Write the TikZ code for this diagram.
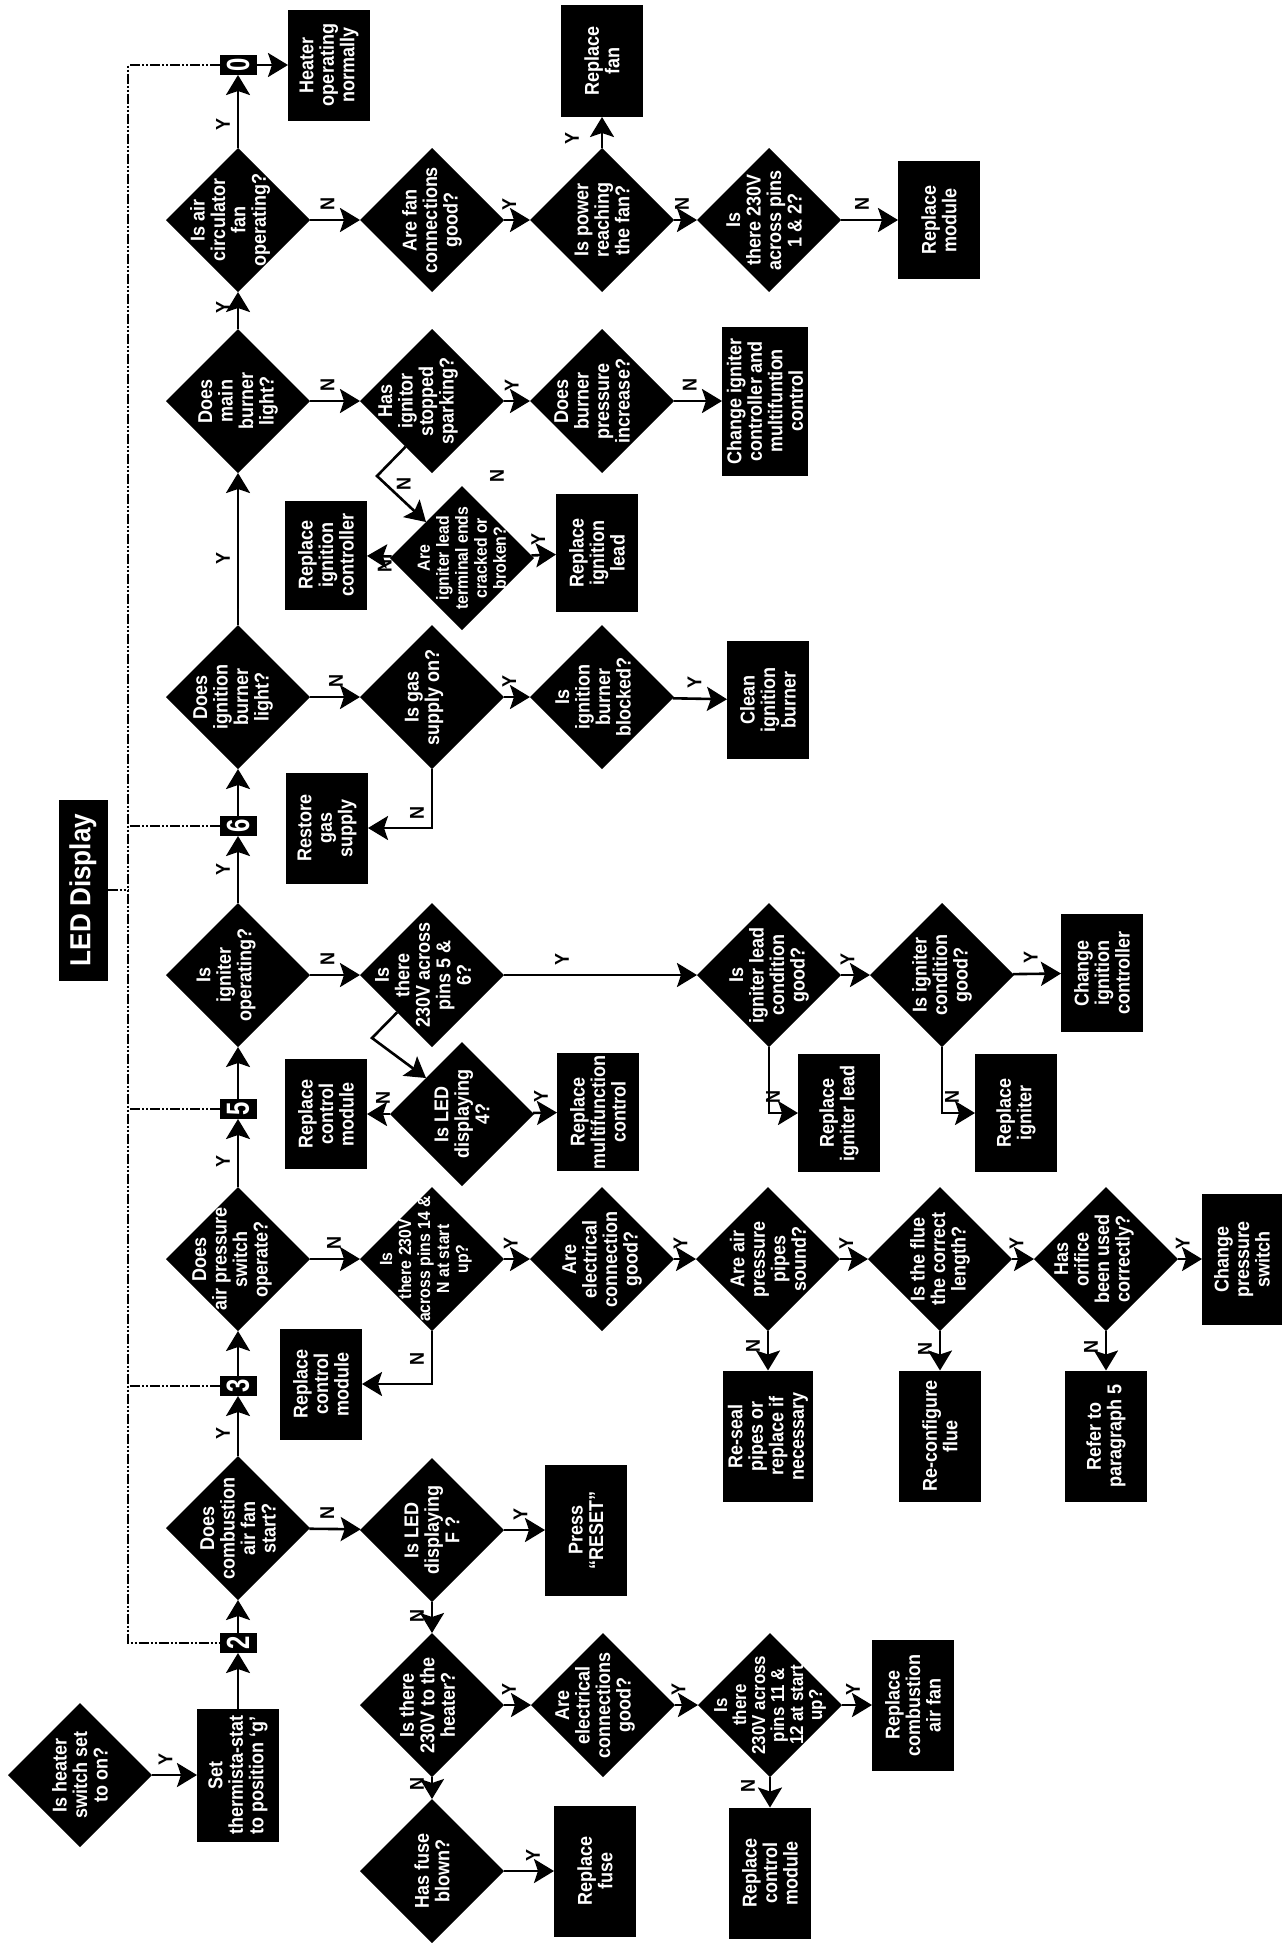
\documentclass[tikz,border=0pt]{standalone}
\usepackage{fontspec}
\setmainfont{Liberation Sans}[FakeStretch=0.9]
\usepackage{graphicx}
\usepackage{tikz}
\usetikzlibrary{shapes.geometric,arrows.meta}

\begin{document}
\begin{tikzpicture}[x=0.5pt, y=-0.5pt, thick,
    ques/.style = {diamond, fill=black, text=white, rotate=90, minimum size=72pt, inner sep=-30pt, outer sep=0pt, align=center, font=\bfseries\fontsize{10}{10.25}\selectfont},
    fine/.style = {font=\bfseries\fontsize{8.8}{9.5}\selectfont},
    lift/.style = {text depth=#1},
    act/.style = {rectangle, fill=black, text=white, rotate=90, minimum width=59pt, minimum height=41pt, inner sep=1pt, outer sep=0pt, align=center, font=\bfseries\fontsize{10}{10.25}\selectfont},
    wide/.style = {minimum width=65.5pt},
    num/.style = {rectangle, fill=black, text=white, rotate=90, minimum width=10pt, minimum height=18.5pt, inner sep=0pt, outer sep=0pt, font=\bfseries\fontsize{16}{16}\selectfont},
    yn/.style = {rotate=90, inner sep=0pt, font=\bfseries\fontsize{10}{10}\selectfont},
    lv/.style = {xshift=-7.5pt, yn},
    lh/.style = {yshift=8pt, yn},
    arr/.style = {-{Stealth[length=10pt, width=12pt, inset=2pt]}, line width=1.3pt},
    dd/.style = {line width=0.6pt, dash pattern=on 5pt off 1pt on 1pt off 1pt on 1pt off 1pt}]
    \useasboundingbox (0,0) rectangle (1282,1943);

    \node[act, font=\bfseries\fontsize{14.5}{15}\selectfont, minimum width=90.5pt, minimum height=24.5pt] (led) at (83,890) {LED Display};
    \node[ques] (onq) at (80,1775) {Is heater\\switch set\\to on?};
    \node[act, minimum width=66.5pt] (setth) at (238,1775) {Set\\thermista-stat\\to position ‘g’};
    \node[num] (two) at (238,1643) {\scalebox{.83}[1]{2}};
    \node[ques] (comb) at (238,1528) {Does\\combustion\\air fan\\start?};
    \node[num] (three) at (238,1386) {\scalebox{.83}[1]{3}};
    \node[ques, lift=8pt] (aps) at (238,1259) {Does\\air pressure\\switch\\operate?};
    \node[num] (five) at (238,1109) {\scalebox{.83}[1]{5}};
    \node[ques, lift=14pt] (igop) at (238,975) {Is\\igniter\\operating?};
    \node[num] (six) at (238,826) {\scalebox{.83}[1]{6}};
    \node[ques, lift=7pt] (ignb) at (238,697) {Does\\ignition\\burner\\light?};
    \node[ques] (burner) at (238,401) {Does\\main\\burner\\light?};
    \node[ques, lift=10pt] (circ) at (238,220) {Is air\\circulator\\fan\\operating?};
    \node[num] (zero) at (238,65) {\scalebox{.83}[1]{0}};
    \node[act, minimum width=55.5pt] (heatok) at (329,65) {Heater\\operating\\normally};

    \node[ques] (fconn) at (432,220) {Are fan\\connections\\good?};
    \node[ques] (power) at (602,220) {Is power\\reaching\\the fan?};
    \node[act, minimum width=56pt] (rfan) at (602,61) {Replace\\fan};
    \node[ques, lift=5pt] (v12) at (769,220) {Is\\there 230V\\across pins\\1 \& 2?};
    \node[act] (rmod) at (939,220) {Replace\\module};

    \node[ques, lift=16pt] (spark) at (432,401) {Has\\ignitor\\stopped\\sparking?};
    \node[ques, lift=10pt] (press) at (602,401) {Does\\burner\\pressure\\increase?};
    \node[act, minimum width=74.5pt, minimum height=43pt] (chg1) at (765,401) {Change igniter\\controller and\\multifuntion\\control};
    \node[ques, fine] (term) at (462,558) {Are\\igniter lead\\terminal ends\\cracked or\\broken?};
    \node[act, minimum width=54.5pt] (rignc) at (326,555) {Replace\\ignition\\controller};
    \node[act] (rlead) at (597,553) {Replace\\ignition\\lead};
    \node[yn] (nstray) at (497,476) {N};

    \node[ques, lift=10pt] (gas) at (432,697) {Is gas\\supply on?};
    \node[ques, lift=9pt] (ignblk) at (602,697) {Is\\ignition\\burner\\blocked?};
    \node[act] (clean) at (768,700) {Clean\\ignition\\burner};
    \node[act, minimum width=55.5pt] (restore) at (327,828) {Restore\\gas\\supply};

    \node[ques, lift=9pt] (v56) at (432,975) {Is\\there\\230V across\\pins 5 \&\\6?};
    \node[ques] (leadc) at (769,975) {Is\\igniter lead\\condition\\good?};
    \node[ques] (igc) at (942,975) {Is igniter\\condition\\good?};
    \node[act] (chg2) at (1102,973) {Change\\ignition\\controller};
    \node[ques] (led4) at (462,1114) {Is LED\\displaying\\4?};
    \node[act, minimum width=55pt] (rcm1) at (326,1114) {Replace\\control\\module};
    \node[act] (rmulti) at (598,1112) {Replace\\multifunction\\control};
    \node[act] (rlead2) at (839,1113) {Replace\\igniter lead};
    \node[act] (rign) at (1016,1113) {Replace\\igniter};

    \node[ques, fine, lift=8pt] (v14) at (432,1259) {Is\\there 230V\\across pins 14 \&\\N at start\\up?};
    \node[ques] (elec1) at (602,1259) {Are\\electrical\\connection\\good?};
    \node[ques] (pipes) at (768,1259) {Are air\\pressure\\pipes\\sound?};
    \node[ques] (flue) at (940,1259) {Is the flue\\the correct\\length?};
    \node[ques, lift=14pt] (orif) at (1106,1259) {Has\\orifice\\been used\\correctly?};
    \node[act, wide, minimum height=40pt] (cps) at (1242,1259) {Change\\pressure\\switch};
    \node[act, minimum width=55.5pt] (rcm2) at (321,1384) {Replace\\control\\module};
    \node[act, wide, minimum height=45pt] (reseal) at (768,1436) {Re-seal\\pipes or\\replace if\\necessary};
    \node[act, wide] (reconf) at (940,1436) {Re-configure\\flue};
    \node[act, wide] (refer) at (1106,1436) {Refer to\\paragraph 5};

    \node[ques] (ledf) at (432,1530) {Is LED\\displaying\\F ?};
    \node[act, wide] (reset) at (586,1530) {Press\\“RESET”};
    \node[ques, lift=5pt] (v230) at (432,1705) {Is there\\230V to the\\heater?};
    \node[ques, lift=10pt] (elec2) at (603,1705) {Are\\electrical\\connections\\good?};
    \node[ques, font=\bfseries\fontsize{9.4}{9.5}\selectfont] (v11) at (770,1705) {Is\\there\\230V across\\pins 11 \&\\12 at start\\up?};
    \node[act, wide] (rcaf) at (913,1705) {Replace\\combustion\\air fan};
    \node[act, wide] (rcm3) at (770,1873) {Replace\\control\\module};
    \node[ques] (fuse) at (432,1871) {Has fuse\\blown?};
    \node[act, wide] (rfuse) at (595,1871) {Replace\\fuse};

    \coordinate (trunk) at (128,1643);
    \coordinate (bend1) at (377,476);
    \coordinate (bend2) at (372,1038);

    \draw[dd] (zero.north) -| (trunk) -- (two.north);
    \draw[dd] (six.north) -- (six.north -| trunk);
    \draw[dd] (five.north) -- (five.north -| trunk);
    \draw[dd] (three.north) -- (three.north -| trunk);
    \draw[dd] (led.south) -- (led.south -| trunk);

    \draw[arr] (onq) -- node[lh, pos=.3] {Y} (setth);
    \draw[arr] (setth) -- (two);
    \draw[arr] (two) -- (comb);
    \draw[arr] (comb) -- node[lv, pos=.37] {Y} (three);
    \draw[arr] (three) -- (aps);
    \draw[arr] (aps) -- node[lv, pos=.37] {Y} (five);
    \draw[arr] (five) -- (igop);
    \draw[arr] (igop) -- node[lv, pos=.5] {Y} (six);
    \draw[arr] (six) -- (ignb);
    \draw[arr] (ignb) -- node[lv, pos=.44] {Y} (burner);
    \draw[arr] (burner) -- node[lv, pos=.57] {Y} (circ);
    \draw[arr] (circ) -- node[lv, pos=.32] {Y} (zero);
    \draw[arr] (zero) -- (heatok);

    \draw[arr] (circ) -- node[lh, pos=.35] {N} (fconn);
    \draw[arr] (fconn) -- node[lh, pos=.2] {Y} (power);
    \draw[arr] (power) -- node[lh, pos=.35] {N} (v12);
    \draw[arr] (v12) -- node[lh, pos=.37] {N} (rmod);
    \draw[arr] (power) -- node[xshift=-15pt, yn, pos=.3] {Y} (rfan);

    \draw[arr] (burner) -- node[lh, pos=.35] {N} (spark);
    \draw[arr] (spark) -- node[lh, pos=.3] {Y} (press);
    \draw[arr] (press) -- node[lh, pos=.33] {N} (chg1);
    \draw[arr] (spark.150) -- (bend1) -- node[xshift=6pt, yshift=3pt, yn, pos=.3] {N} (term.north east);
    \draw[arr] (term) -- node[yshift=-5pt, yn, pos=.28] {N} (rignc);
    \draw[arr] (term) -- node[lh, pos=.28] {Y} (rlead);

    \draw[arr] (ignb) -- node[lh, pos=.52] {N} (gas);
    \draw[arr] (gas) -- node[lh, pos=.2] {Y} (ignblk);
    \draw[arr] (ignblk) -- node[lh, pos=.4] {Y} (clean);
    \draw[arr] (gas.west) |- node[lv, pos=.37] {N} (restore);

    \draw[arr] (igop) -- node[lh, pos=.35] {N} (v56);
    \draw[arr] (v56) -- node[lh, pos=.3] {Y} (leadc);
    \draw[arr] (leadc) -- node[lh, pos=.22] {Y} (igc);
    \draw[arr] (igc) -- node[lh, pos=.37] {Y} (chg2);
    \draw[arr] (v56.137) -- (bend2) -- (led4.north east);
    \draw[arr] (leadc.west) |- node[lh, pos=.57] {N} (rlead2);
    \draw[arr] (igc.west) |- node[lh, pos=.65] {N} (rign);
    \draw[arr] (led4) -- node[lh, pos=.3] {N} (rcm1);
    \draw[arr] (led4) -- node[lh, pos=.33] {Y} (rmulti);

    \draw[arr] (aps) -- node[lh, pos=.48] {N} (v14);
    \draw[arr] (v14) -- node[lh, pos=.26] {Y} (elec1);
    \draw[arr] (elec1) -- node[lh, pos=.3] {Y} (pipes);
    \draw[arr] (pipes) -- node[lh, pos=.22] {Y} (flue);
    \draw[arr] (flue) -- node[lh, pos=.2] {Y} (orif);
    \draw[arr] (orif) -- node[lh, pos=.2] {Y} (cps);
    \draw[arr] (v14.west) |- node[lv, pos=.26] {N} (rcm2);
    \draw[arr] (pipes) -- node[lv, pos=.37] {N} (reseal);
    \draw[arr] (flue) -- node[lv, pos=.45] {N} (reconf);
    \draw[arr] (orif) -- node[lv, pos=.4] {N} (refer);

    \draw[arr] (comb) -- node[lh, pos=.35] {N} (ledf);
    \draw[arr] (ledf) -- node[lh, pos=.4] {Y} (reset);
    \draw[arr] (ledf) -- node[lv, pos=.45] {N} (v230);
    \draw[arr] (v230) -- node[lh, pos=.18] {Y} (elec2);
    \draw[arr] (elec2) -- node[lh, pos=.15] {Y} (v11);
    \draw[arr] (v11) -- node[lh, pos=.37] {Y} (rcaf);
    \draw[arr] (v11) -- node[xshift=-11pt, yn, pos=.3] {N} (rcm3);
    \draw[arr] (v230) -- node[lv, pos=.3] {N} (fuse);
    \draw[arr] (fuse) -- node[lh, pos=.58] {Y} (rfuse);
\end{tikzpicture}
\end{document}
